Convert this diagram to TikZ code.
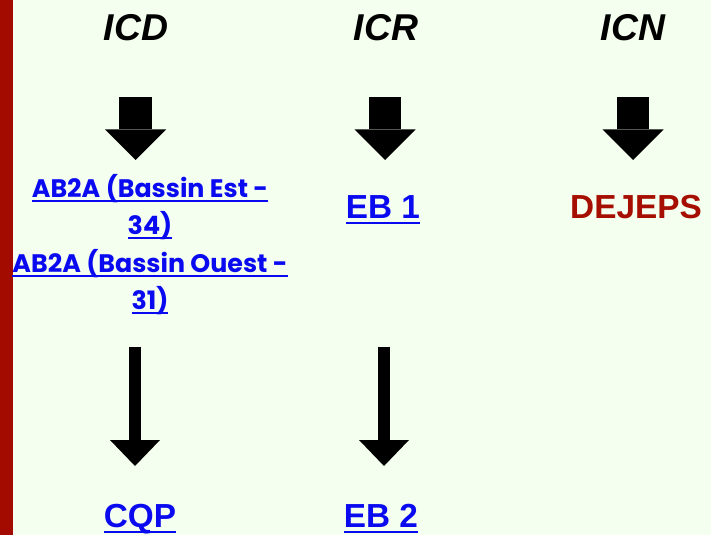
\documentclass[tikz,border=0pt]{standalone}
\usepackage{fontspec}
\setmainfont{Liberation Sans}
\newfontfamily\popfont{Poppins}
\usetikzlibrary{arrows.meta}
\definecolor{bgpale}{HTML}{F5FFEF}
\definecolor{barred}{HTML}{A30B00}
\definecolor{linkblue}{HTML}{0A0AF0}
\definecolor{diplred}{HTML}{A50E00}
\newcommand{\linktext}[1]{\setbox0\hbox{#1}\rlap{\rule[-0.18em]{\wd0}{0.06em}}\box0}
\tikzset{
    head/.style={font=\fontsize{28}{30}\selectfont\bfseries\itshape, anchor=base, inner sep=0pt},
    bigarrow/.style={line width=24.5pt, -{Triangle[width=46pt,length=23pt,line width=0pt]}},
    longarrow/.style={line width=9pt, -{Triangle[width=37.5pt,length=19.5pt,line width=0pt]}},
    link/.style={text=linkblue, anchor=base, inner sep=0pt, font=\fontsize{25}{27}\selectfont\bfseries},
    smalllink/.style={text=linkblue, anchor=base, inner sep=0pt, align=center,
        font=\popfont\fontsize{19}{27.75}\selectfont\bfseries},
    dipl/.style={text=diplred, anchor=base, inner sep=0pt, font=\fontsize{25}{27}\selectfont\bfseries}
}

\begin{document}
\begin{tikzpicture}[x=0.75pt,y=-0.75pt]

    \useasboundingbox (0,0) rectangle (711,535);
    \fill[bgpale] (0,0) rectangle (711,535);
    \fill[barred] (0,0) rectangle (12.5,535);

    % column heads
    \node[head] (icd) at (136,41) {ICD};
    \node[head] (icr) at (386,41) {ICR};
    \node[head] (icn) at (633,41) {ICN};

    \coordinate (a1) at (135.5,97);
    \coordinate (b1) at (135.5,160);
    \coordinate (a2) at (385,97);
    \coordinate (b2) at (385,160);
    \coordinate (a3) at (633,97);
    \coordinate (b3) at (633,160);
    \coordinate (a4) at (135,347);
    \coordinate (b4) at (135,466);
    \coordinate (a5) at (384,347);
    \coordinate (b5) at (384,466);

    % base of a two-line node is its last line
    \node[smalllink] (est) at (150,234)
        {\linktext{AB2A (Bassin Est -}\\\linktext{34)}};
    \node[smalllink] (ouest) at (150,309)
        {\linktext{AB2A (Bassin Ouest -}\\\linktext{31)}};
    \node[link] (eb1) at (383,218) {\linktext{EB 1}};
    \node[dipl] (dejeps) at (636,218) {DEJEPS};
    \node[link] (cqp) at (140,527) {\linktext{CQP}};
    \node[link] (eb2) at (381,527) {\linktext{EB 2}};

    \draw[bigarrow] (a1) -- (b1);
    \draw[bigarrow] (a2) -- (b2);
    \draw[bigarrow] (a3) -- (b3);
    \draw[longarrow] (a4) -- (b4);
    \draw[longarrow] (a5) -- (b5);

\end{tikzpicture}
\end{document}
